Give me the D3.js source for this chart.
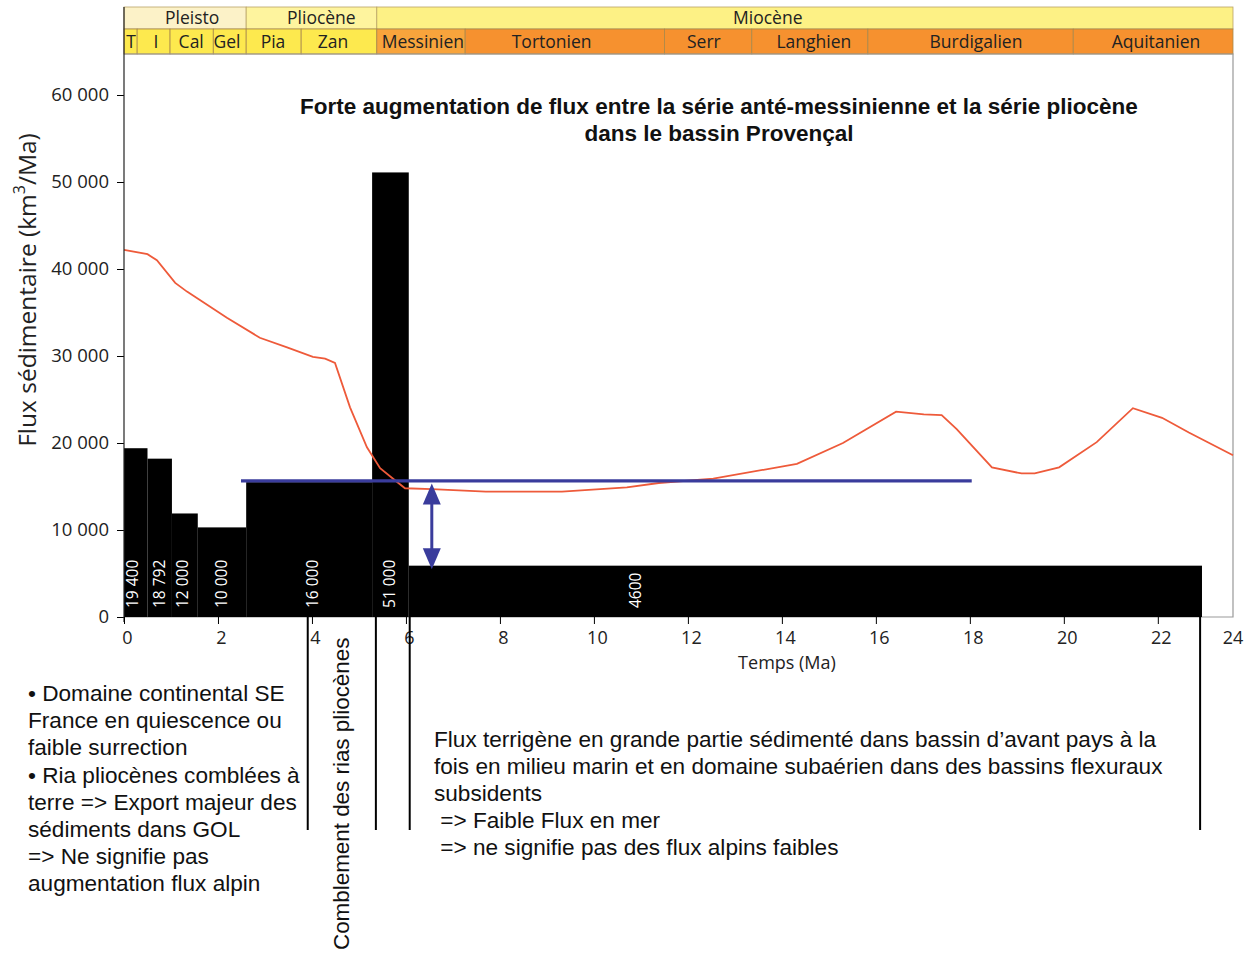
<!DOCTYPE html>
<html><head><meta charset="utf-8">
<script src="https://cdn.jsdelivr.net/npm/d3@7"></script>
<style>body{margin:0;background:#fff} svg{display:block}</style>
</head><body><svg id="c" width="1247" height="953"></svg>
<script>
// ---------- DATA ----------
const epochNames = ["Pleisto", "Pliocène", "Miocène"];
const epochBounds = [0, 2.6, 5.38, 23.6];
const epochLabelAges = [1.45, 4.2, 13.7];
const stageNames = ["T", "I", "Cal", "Gel", "Pia", "Zan", "Messinien", "Tortonien", "Serr", "Langhien", "Burdigalien", "Aquitanien"];
const stageBounds = [0, 0.28, 0.98, 1.9, 2.6, 3.77, 5.38, 7.26, 11.5, 13.36, 15.83, 20.2, 23.6];
const stageLabelAges = [0.15, 0.68, 1.43, 2.19, 3.17, 4.45, 6.36, 9.1, 12.34, 14.68, 18.13, 21.96];
const barStarts = [0, 0.5, 1.02, 1.57, 2.6, 5.28, 6.06];
const barEnds = [0.5, 1.02, 1.57, 2.6, 5.28, 6.06, 22.94];
const barValues = [19400, 18200, 11900, 10300, 15500, 51100, 5900];
const barLabels = ["19 400", "18 792", "12 000", "10 000", "16 000", "51 000", "4600"];
const barLabelAges = [0.2, 0.77, 1.25, 2.08, 4.02, 5.66, 10.9];
const fluxAges = [0, 0.5, 0.7, 1.09, 1.34, 1.68, 2.19, 2.89, 3.47, 4.02, 4.28, 4.49, 4.81, 5.17, 5.45, 5.7, 5.98, 6.55, 7.7, 9.32, 10.7, 11.38, 12.54, 14.32, 15.3, 16.43, 17.02, 17.4, 17.72, 18.47, 19.1, 19.38, 19.9, 20.7, 21.47, 22.09, 22.66, 23.6];
const fluxValues = [42200, 41700, 41000, 38400, 37400, 36200, 34400, 32100, 31000, 29900, 29700, 29200, 24100, 19500, 17100, 16000, 14800, 14700, 14400, 14400, 14900, 15400, 15900, 17600, 20000, 23600, 23300, 23200, 21600, 17200, 16500, 16500, 17200, 20100, 24000, 22900, 21200, 18600];
const xTicks = [0, 2, 4, 6, 8, 10, 12, 14, 16, 18, 20, 22];
const yTicks = [0, 10000, 20000, 30000, 40000, 50000, 60000];
const meanLevel = 15650, meanFrom = 2.49, meanTo = 18.04;
const arrowAge = 6.55, arrowTop = 15350, arrowBottom = 5500;
const markerAges = [3.91, 5.36, 6.08, 22.9];
const titleLines = ["Forte augmentation de flux entre la série anté-messinienne et la série pliocène", "dans le bassin Provençal"];
const leftNotes = ["• Domaine continental SE", "France en quiescence ou", "faible surrection", "• Ria pliocènes comblées à", "terre => Export majeur des", "sédiments dans GOL", "=> Ne signifie pas", "augmentation flux alpin"];
const rightNotes = ["Flux terrigène en grande partie sédimenté dans bassin d’avant pays à la", "fois en milieu marin et en domaine subaérien dans des bassins flexuraux", "subsidents", " => Faible Flux en mer", " => ne signifie pas des flux alpins faibles"];
const verticalNote = "Comblement des rias pliocènes";

// ---------- SCALES ----------
const svg = d3.select("#c");
const x = d3.scaleLinear().domain([0, 23.6]).range([124, 1233]);
const y = d3.scaleLinear().domain([0, 70000]).range([617, 8]);
const fr = d3.formatLocale({decimal: ",", thousands: " ", grouping: [3], currency: ["", ""]});
const fmt = fr.format(",d");
const myriad = "'Open Sans', 'DejaVu Sans', sans-serif";
const arial = "'Liberation Sans', Arial, sans-serif";

// ---------- HEADER BAND ----------
const r1 = 7, r2 = 29, r3 = 54;
const epochColors = ["#fcf2c8", "#fef49e", "#fdf185"];
const hdr = svg.append("g");
epochNames.forEach((n, i) => {
  hdr.append("rect").attr("x", x(epochBounds[i])).attr("y", r1)
    .attr("width", x(epochBounds[i + 1]) - x(epochBounds[i])).attr("height", r2 - r1)
    .attr("fill", epochColors[i]).attr("stroke", "#b9a366").attr("stroke-width", 0.8);
  hdr.append("text").attr("x", x(epochLabelAges[i])).attr("y", r2 - 5)
    .attr("text-anchor", "middle").attr("font-family", myriad).attr("font-size", 17.5)
    .attr("fill", "#222").text(n);
});
stageNames.forEach((n, i) => {
  const c = i < 6 ? "#fde94e" : (i === 6 ? "#f8a43c" : "#f6912f");
  hdr.append("rect").attr("x", x(stageBounds[i])).attr("y", r2)
    .attr("width", x(stageBounds[i + 1]) - x(stageBounds[i])).attr("height", r3 - r2)
    .attr("fill", c).attr("stroke", "#a8884a").attr("stroke-width", 0.8);
  hdr.append("text").attr("x", x(stageLabelAges[i])).attr("y", r3 - 6.5)
    .attr("text-anchor", "middle").attr("font-family", myriad).attr("font-size", 17.5)
    .attr("fill", "#222").text(n);
});

// ---------- FRAME ----------
svg.append("path").attr("d", `M${x(0)},${r3}H${x(23.6)}V${y(0)}H${x(0)}`)
  .attr("fill", "none").attr("stroke", "#999").attr("stroke-width", 1.2);

// ---------- BARS ----------
svg.append("g").selectAll("rect").data(barValues).join("rect")
  .attr("x", (d, i) => x(barStarts[i]))
  .attr("width", (d, i) => x(barEnds[i]) - x(barStarts[i]))
  .attr("y", d => y(d)).attr("height", d => y(0) - y(d)).attr("fill", "#000");

// ---------- FLUX LINE ----------
const line = d3.line().x(d => x(d[0])).y(d => y(d[1]));
svg.append("path").datum(fluxAges.map((a, i) => [a, fluxValues[i]]))
  .attr("d", line).attr("fill", "none").attr("stroke", "#ee5a3a").attr("stroke-width", 1.8);

// ---------- MEAN LEVEL & ARROW ----------
const blue = "#3a3c9c";
svg.append("line").attr("x1", x(meanFrom)).attr("x2", x(meanTo))
  .attr("y1", y(meanLevel)).attr("y2", y(meanLevel)).attr("stroke", blue).attr("stroke-width", 3.2);
const ax = x(arrowAge), aT = y(arrowTop), aB = y(arrowBottom);
svg.append("line").attr("x1", ax).attr("x2", ax).attr("y1", aT + 15).attr("y2", aB - 15)
  .attr("stroke", blue).attr("stroke-width", 3);
svg.append("path").attr("d", `M${ax},${aT}L${ax - 9},${aT + 21}L${ax + 9},${aT + 21}Z`).attr("fill", blue);
svg.append("path").attr("d", `M${ax},${aB}L${ax - 9},${aB - 21}L${ax + 9},${aB - 21}Z`).attr("fill", blue);

// ---------- BAR LABELS ----------
svg.append("g").selectAll("text").data(barLabels).join("text")
  .attr("transform", (d, i) => `translate(${x(barLabelAges[i]) + 5},${y(0) - 9}) rotate(-90)`)
  .attr("font-family", myriad).attr("font-size", 15.5).attr("fill", "#fff").text(d => d);

// ---------- AXES ----------
const gy = svg.append("g").attr("transform", `translate(${x(0)},0)`)
  .call(d3.axisLeft(y).tickValues(yTicks).tickSize(7).tickPadding(8).tickFormat(fmt));
gy.select(".domain").remove();
gy.selectAll("text").attr("font-family", myriad).attr("font-size", 18.5).attr("fill", "#222");
svg.append("line").attr("x1", x(0)).attr("x2", x(0)).attr("y1", r1).attr("y2", y(0) + 5)
  .attr("stroke", "#222").attr("stroke-width", 1.2);

const gx = svg.append("g").attr("transform", `translate(0,${y(0)})`)
  .call(d3.axisBottom(x).tickValues(xTicks).tickSize(7).tickPadding(7));
gx.select(".domain").remove();
gx.selectAll("text").attr("font-family", myriad).attr("font-size", 18).attr("fill", "#222")
  .attr("dx", 3);
svg.append("text").attr("x", x(23.6)).attr("y", y(0) + 27).attr("text-anchor", "middle")
  .attr("font-family", myriad).attr("font-size", 18).attr("fill", "#222").text("24");

svg.append("text").attr("x", 787).attr("y", 669).attr("text-anchor", "middle")
  .attr("font-family", myriad).attr("font-size", 18).attr("fill", "#222").text("Temps (Ma)");

const yt = svg.append("text").attr("transform", "translate(36,290) rotate(-90)")
  .attr("text-anchor", "middle").attr("font-family", myriad).attr("font-size", 24.5).attr("fill", "#222");
yt.append("tspan").text("Flux sédimentaire (km");
yt.append("tspan").attr("baseline-shift", "super").attr("font-size", 16).text("3");
yt.append("tspan").text("/Ma)");

// ---------- TITLE ----------
titleLines.forEach((t, i) => {
  svg.append("text").attr("x", 719).attr("y", 114 + i * 27).attr("text-anchor", "middle")
    .attr("font-family", arial).attr("font-weight", "bold").attr("font-size", 22.5).attr("fill", "#111").text(t);
});

// ---------- MARKER LINES ----------
svg.append("g").selectAll("line").data(markerAges).join("line")
  .attr("x1", d => x(d)).attr("x2", d => x(d)).attr("y1", y(0)).attr("y2", 830)
  .attr("stroke", "#000").attr("stroke-width", 2);

// ---------- NOTES ----------
leftNotes.forEach((t, i) => {
  svg.append("text").attr("x", 28).attr("y", 701 + i * 27.2)
    .attr("font-family", arial).attr("font-size", 22.6).attr("fill", "#111").text(t);
});
rightNotes.forEach((t, i) => {
  svg.append("text").attr("x", 434).attr("y", 747 + i * 27)
    .attr("font-family", arial).attr("font-size", 22.6).attr("fill", "#111")
    .style("white-space", "pre").text(t);
});
svg.append("text").attr("transform", "translate(349,950) rotate(-90)")
  .attr("font-family", arial).attr("font-size", 22.4).attr("fill", "#111").text(verticalNote);
</script></body></html>
